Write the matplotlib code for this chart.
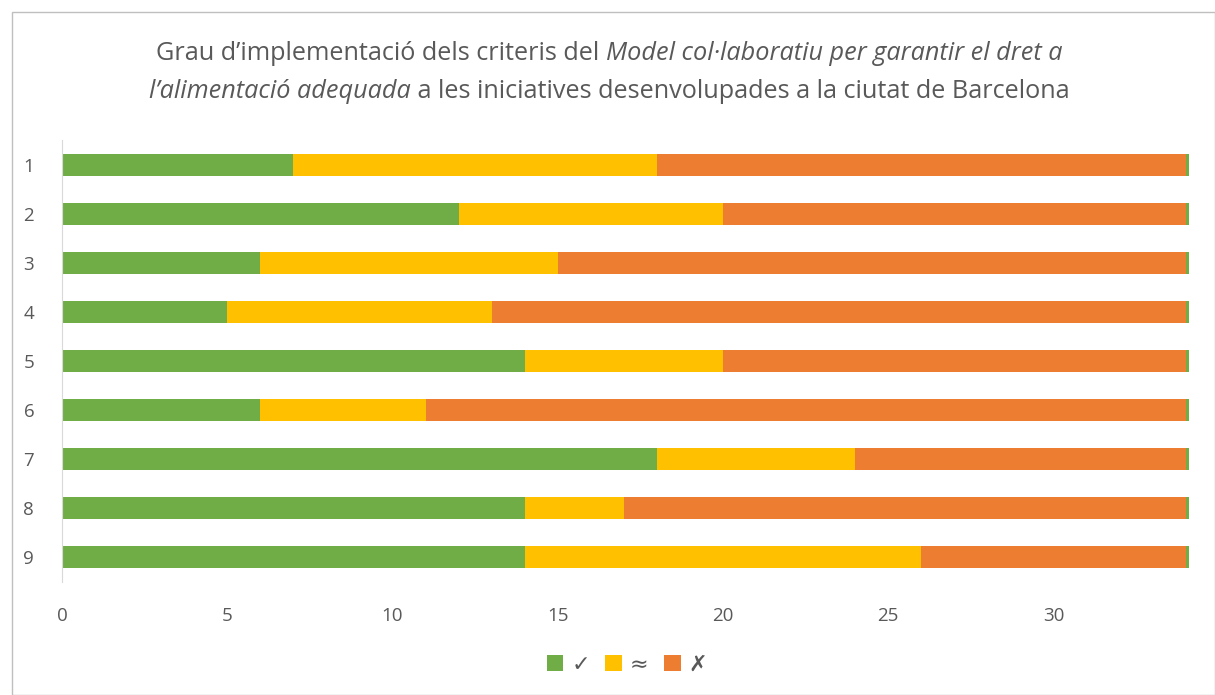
import matplotlib.pyplot as plt
from matplotlib.patches import Rectangle, Patch

# Data
CATEGORIES = ['1', '2', '3', '4', '5', '6', '7', '8', '9']
YES = [7, 12, 6, 5, 14, 6, 18, 14, 14]        # ✓
PARTIAL = [11, 8, 9, 8, 6, 5, 6, 3, 12]       # ≈
NO = [16, 14, 19, 21, 14, 23, 10, 17, 8]      # ✗
END_CAP = [0.1] * 9                           # thin green end segment
LEGEND_LABELS = ['\u2713', '\u2248', '\u2717']
X_TICKS = [0, 5, 10, 15, 20, 25, 30]

GREEN = '#70AD47'
YELLOW = '#FFC000'
ORANGE = '#ED7D31'
TEXT = '#595959'

plt.rcParams['font.family'] = ['Open Sans', 'DejaVu Sans']

W, H = 1215, 695
fig = plt.figure(figsize=(W / 100, H / 100), dpi=100)

# outer chart border
fig.patches.append(Rectangle((12 / W, 0), 1 - 12 / W, 1 - 12 / H, transform=fig.transFigure,
                             fill=False, edgecolor='#BFBFBF', linewidth=1))

ax = fig.add_axes([62 / W, (H - 582) / H, (1189 - 62) / W, 442 / H])

ypos = list(range(len(CATEGORIES)))
h = 0.45
left = [0] * len(CATEGORIES)
for vals, col in [(YES, GREEN), (PARTIAL, YELLOW), (NO, ORANGE), (END_CAP, GREEN)]:
    ax.barh(ypos, vals, left=left, height=h, color=col, edgecolor='none')
    left = [a + b for a, b in zip(left, vals)]

ax.set_ylim(len(CATEGORIES) - 0.5, -0.5)
ax.set_xlim(0, 34.1)
ax.set_yticks(ypos)
ax.set_yticklabels(CATEGORIES)
ax.set_xticks(X_TICKS)
for s in ['top', 'right', 'bottom']:
    ax.spines[s].set_visible(False)
ax.spines['left'].set_color('#D9D9D9')
ax.tick_params(axis='both', length=0, labelsize=13.5, colors=TEXT)
ax.tick_params(axis='y', pad=20)
ax.tick_params(axis='x', pad=18)

# legend
handles = [Patch(facecolor=c, edgecolor='none') for c in (GREEN, YELLOW, ORANGE)]
fig.legend(handles, LEGEND_LABELS, loc='center', bbox_to_anchor=(0.516, (H - 665) / H),
           ncol=3, frameon=False, handlelength=0.75, handleheight=0.75, handletextpad=0.35,
           columnspacing=0.7, prop={'size': 16, 'family': ['DejaVu Sans']}, labelcolor=TEXT)

# title with italic pieces
renderer = fig.canvas.get_renderer()
title_lines = [
    [("Grau d\u2019implementació dels criteris del ", 'normal'),
     ("Model col·laboratiu per garantir el dret a", 'italic')],
    [("l\u2019alimentació adequada", 'italic'),
     (" a les iniciatives desenvolupades a la ciutat de Barcelona", 'normal')],
]
line_y = [53, 91]
for pieces, ypx in zip(title_lines, line_y):
    texts = []
    for s, style in pieces:
        t = fig.text(0, 1 - ypx / H, s, fontsize=18.2, style=style, color=TEXT, va='center', ha='left')
        texts.append(t)
    widths = [t.get_window_extent(renderer).width for t in texts]
    x = 609 - sum(widths) / 2
    for t, w in zip(texts, widths):
        t.set_x(x / W)
        x += w

fig.savefig('out.png', dpi=100)
